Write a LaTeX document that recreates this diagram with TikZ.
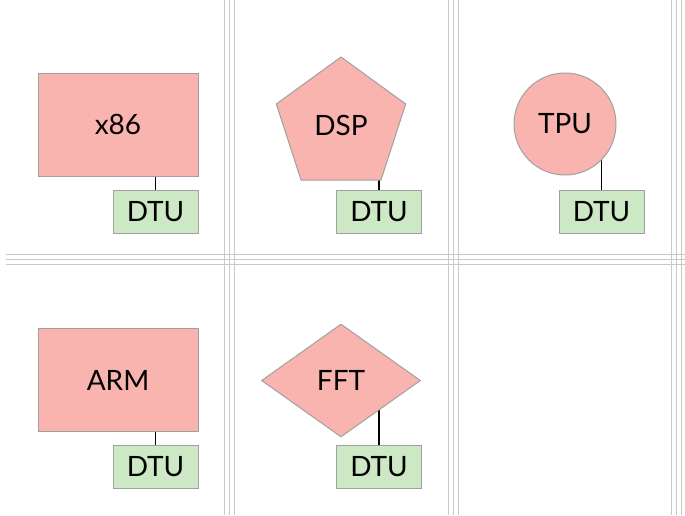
\documentclass[tikz,border=0pt]{standalone}
\usepackage{fontspec}
\setmainfont{Lato}
\usetikzlibrary{shapes.geometric}
\usetikzlibrary{backgrounds}
\definecolor{CoreFill}{RGB}{250,180,175}
\definecolor{TileFill}{RGB}{205,232,197}
\definecolor{EdgeGray}{RGB}{160,160,160}
\definecolor{GridGray}{RGB}{200,200,200}
\tikzstyle{Core}=[draw=EdgeGray,fill=CoreFill,inner sep=0pt,line width=.5pt,
font=\fontsize{14}{16}\selectfont]
\tikzstyle{CoreBox}=[Core,rectangle,minimum width=80pt,minimum height=51.5pt]
\tikzstyle{CorePoly}=[Core,regular polygon,regular polygon sides=5,minimum size=68pt]
\tikzstyle{CoreCircle}=[Core,circle,minimum size=51pt]
\tikzstyle{CoreDiamond}=[Core,diamond,minimum width=79.5pt,minimum height=56.5pt]
\tikzstyle{Dtu}=[draw=EdgeGray,fill=TileFill,inner sep=0pt,line width=.5pt,
minimum width=42.5pt,minimum height=21.5pt,font=\fontsize{14}{16}\selectfont]
\tikzstyle{Link}=[black,line width=.8pt]
\tikzstyle{GridLine}=[GridGray,line width=.5pt]

\begin{document}
\begin{tikzpicture}[x=.5pt,y=-.5pt]
        \useasboundingbox (0,0) rectangle (685,515);
        % triple rules between the cells
        \foreach \d in {-5,0,5}{
            \foreach \gx in {229.5,453,676}
                \draw[GridLine](\gx+\d,0)--(\gx+\d,515);
            \draw[GridLine](6,259.5+\d)--(685,259.5+\d);
        }
        \node[CoreBox](x86)at(118,124.5){x86};
        \node[CorePoly](dsp)at(341,125){DSP};
        \node[CoreCircle](tpu)at(565,124){TPU};
        \node[CoreBox](arm)at(118,380){ARM};
        \node[CoreDiamond](fft)at(341,380.5){FFT};
        \node[Dtu](dx86)at(155.5,211.5){DTU};
        \node[Dtu](ddsp)at(379,211.5){DTU};
        \node[Dtu](dtpu)at(601.5,211.5){DTU};
        \node[Dtu](darm)at(155.5,467){DTU};
        \node[Dtu](dfft)at(379,467){DTU};
        \begin{scope}[on background layer]
            \draw[Link](dx86.north)--(dx86.north|-x86.center);
            \draw[Link](ddsp.north)--(ddsp.north|-dsp.center);
            \draw[Link](dtpu.north)--(dtpu.north|-tpu.center);
            \draw[Link](darm.north)--(darm.north|-arm.center);
            \draw[Link](dfft.north)--(dfft.north|-fft.center);
        \end{scope}
    \end{tikzpicture}
\end{document}
